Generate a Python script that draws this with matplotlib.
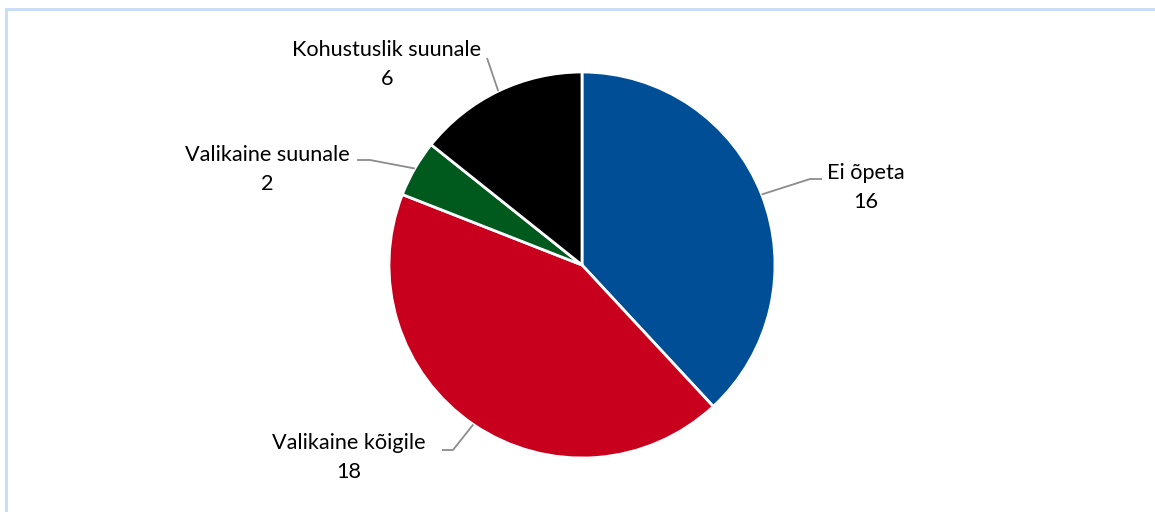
import numpy as np
import matplotlib
matplotlib.use("Agg")
import matplotlib.pyplot as plt
from matplotlib.patches import Rectangle

categories = ["Ei õpeta", "Valikaine kõigile", "Valikaine suunale", "Kohustuslik suunale"]
values = [16, 18, 2, 6]
colors = ["#004E96", "#C8001E", "#005A1E", "#000000"]

W, H = 1155, 512
fig = plt.figure(figsize=(W / 100, H / 100), dpi=100)
ax = fig.add_axes([0, 0, 1, 1])
ax.set_xlim(0, W)
ax.set_ylim(0, H)
ax.axis("off")

# figure border (light blue)
ax.add_patch(Rectangle((6, -10), W + 20, H - 9 + 10, fill=False,
                       edgecolor="#C5DCF5", linewidth=2))

cx, cy, r = 582, H - 265, 193
wedges, _ = ax.pie(values, colors=colors, startangle=90, counterclock=False,
                   center=(cx, cy), radius=r,
                   wedgeprops=dict(edgecolor="white", linewidth=2))
ax.set_xlim(0, W)
ax.set_ylim(0, H)
ax.set_aspect("equal")

# label layout: (text center x, text top-line y in px, elbow px, end px)
layout = {
    "Ei õpeta": ((866, 173), (810, 179), (822, 179)),
    "Valikaine kõigile": ((349, 443), (453, 450), (442, 450)),
    "Valikaine suunale": ((267, 155), (370, 160), (357, 160)),
    "Kohustuslik suunale": ((387, 50), (487, 58), None),
}

for w, cat, val in zip(wedges, categories, values):
    ang = np.deg2rad((w.theta1 + w.theta2) / 2)
    ex, ey = cx + r * np.cos(ang), cy + r * np.sin(ang)
    (tx, ty), elbow, end = layout[cat]
    xs = [ex, elbow[0]]
    ys = [ey, H - elbow[1]]
    if end is not None:
        xs.append(end[0])
        ys.append(H - end[1])
    ax.plot(xs, ys, color="#8C8C8C", linewidth=1.3, solid_capstyle="butt")
    ax.text(tx, H - ty, cat, ha="center", va="center", fontsize=15.6,
            family="Lato", color="#000000")
    ax.text(tx, H - ty - 29, str(val), ha="center", va="center", fontsize=15.6,
            family="Lato", color="#000000")

fig.savefig("out.png", dpi=100)
